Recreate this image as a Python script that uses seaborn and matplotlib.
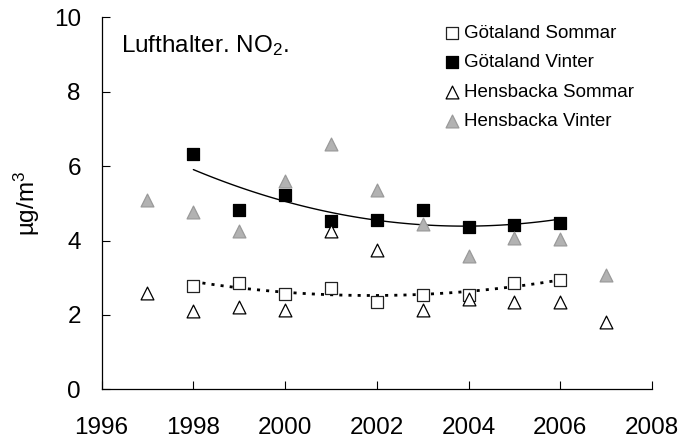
import numpy as np
import pandas as pd
import matplotlib
matplotlib.use("Agg")
import matplotlib.pyplot as plt
import seaborn as sns

# values
gotaland_years = [1998, 1999, 2000, 2001, 2002, 2003, 2004, 2005, 2006]
gotaland_sommar = [2.79, 2.87, 2.57, 2.73, 2.34, 2.55, 2.55, 2.87, 2.93]
gotaland_vinter = [6.32, 4.81, 5.23, 4.53, 4.56, 4.81, 4.37, 4.42, 4.48]

hensbacka_years = [1997, 1998, 1999, 2000, 2001, 2002, 2003, 2004, 2005, 2006, 2007]
hensbacka_sommar = [2.59, 2.10, 2.21, 2.14, 4.26, 3.74, 2.14, 2.42, 2.34, 2.34, 1.82]
hensbacka_vinter = [5.08, 4.78, 4.27, 5.61, 6.59, 5.35, 4.44, 3.58, 4.06, 4.04, 3.07]

x_ticks = [1996, 1998, 2000, 2002, 2004, 2006, 2008]
y_ticks = [0, 2, 4, 6, 8, 10]

sns.set_style("white")
plt.rcParams['font.family'] = ['Liberation Sans', 'DejaVu Sans']
plt.rcParams['mathtext.fontset'] = 'custom'
plt.rcParams['mathtext.rm'] = 'Liberation Sans'
plt.rcParams['mathtext.default'] = 'regular'
for key in ['text.color', 'axes.labelcolor', 'xtick.color', 'ytick.color']:
    plt.rcParams[key] = 'black'

gs = pd.DataFrame({'year': gotaland_years, 'sommar': gotaland_sommar, 'vinter': gotaland_vinter})
hb = pd.DataFrame({'year': hensbacka_years, 'sommar': hensbacka_sommar, 'vinter': hensbacka_vinter})

fig = plt.figure(figsize=(6.82, 4.44), dpi=100)
ax = fig.add_axes([0.149, 0.123, 0.807, 0.838])

# trend lines (2nd order polynomial) for Götaland
sns.regplot(data=gs, x='year', y='vinter', order=2, ci=None, scatter=False,
            line_kws=dict(color='black', lw=1.0), ax=ax)
sns.regplot(data=gs, x='year', y='sommar', order=2, ci=None, scatter=False,
            line_kws=dict(color='black', lw=2.0, linestyle=(0, (1.1, 2.2))), ax=ax)

sns.scatterplot(data=gs, x='year', y='sommar', marker='s', s=80, color='white',
                edgecolor='#222222', linewidth=0.9, label='Götaland Sommar', ax=ax, zorder=3)
sns.scatterplot(data=gs, x='year', y='vinter', marker='s', s=80, color='black',
                edgecolor='black', linewidth=0.9, label='Götaland Vinter', ax=ax, zorder=3)
sns.scatterplot(data=hb, x='year', y='sommar', marker='^', s=85, color='white',
                edgecolor='black', linewidth=0.9, label='Hensbacka Sommar', ax=ax, zorder=3)
sns.scatterplot(data=hb, x='year', y='vinter', marker='^', s=85, color='#b2b2b2',
                edgecolor='#9a9a9a', linewidth=0.9, label='Hensbacka Vinter', ax=ax, zorder=3)

ax.set_xlim(1996, 2008)
ax.set_ylim(0, 10)
ax.set_xticks(x_ticks)
ax.set_yticks(y_ticks)
ax.tick_params(axis='both', direction='in', length=5.5, width=0.8, labelsize=17.5,
               color='black', bottom=True, left=True)
ax.tick_params(axis='x', pad=20)
ax.tick_params(axis='y', pad=15)
sns.despine(ax=ax)
for side in ['left', 'bottom']:
    ax.spines[side].set_color('black')
    ax.spines[side].set_linewidth(0.9)

ax.set_xlabel('')
ax.set_ylabel('µg/m$^3$', fontsize=17.5)
ax.yaxis.set_label_coords(-0.109, 0.5)

fig.text(121 / 682, 1 - 52.3 / 444, 'Lufthalter. NO$_2$.', fontsize=17.5, va='baseline', ha='left')

ax.legend(loc='upper left', bbox_to_anchor=(435.4 / 682, 1 - 15.3 / 444),
          bbox_transform=fig.transFigure, frameon=False, fontsize=13.5,
          borderpad=0, handlelength=0.8, handletextpad=0.25, labelspacing=0.66)

fig.savefig('out.png', dpi=100)
